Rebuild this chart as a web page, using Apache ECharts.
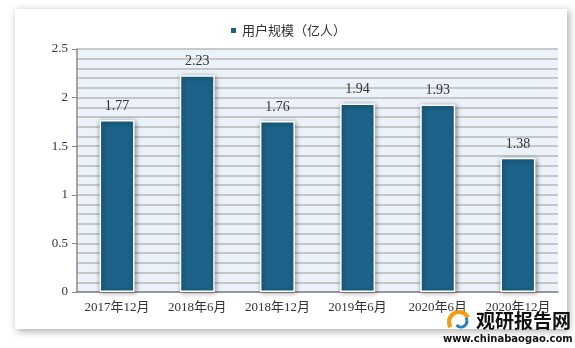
<!DOCTYPE html>
<html><head><meta charset="utf-8">
<script src="https://cdn.jsdelivr.net/npm/echarts@6/dist/echarts.min.js"></script>
<style>html,body{margin:0;padding:0;background:#fff}#c{width:575px;height:348px}</style>
</head><body><div id="c"></div>
<script>
var categories = ['2017年12月','2018年6月','2018年12月','2019年6月','2020年6月','2020年12月'];
var values = [1.77, 2.23, 1.76, 1.94, 1.93, 1.38];
var seriesName = '用户规模（亿人）';
var yTicks = [0, 0.5, 1, 1.5, 2, 2.5];

var chart = echarts.init(document.getElementById('c'));
chart.setOption({
  animation: false,
  backgroundColor: '#fff',
  graphic: [
    {type:'rect', shape:{x:15,y:9,width:552,height:320}, style:{fill:'#fff', shadowBlur:8, shadowColor:'rgba(0,0,0,0.35)', shadowOffsetX:2, shadowOffsetY:2}, z:-10},
    {type:'text', left:476, top:311, style:{text:'观研报告网', font:'bold 19px "Noto Sans CJK SC"', fill:'#111'}, z:10},
    {type:'text', left:443, top:334, style:{text:'www.chinabaogao.com', font:'bold 10px "DejaVu Sans"', fill:'#111'}, z:10},
    {type:'arc', shape:{cx:459,cy:322,r:10,startAngle:2.6,endAngle:5.8}, style:{fill:'none', stroke:'#f39c12', lineWidth:4}, z:10},
    {type:'arc', shape:{cx:461,cy:321,r:6,startAngle:-0.6,endAngle:2.4}, style:{fill:'none', stroke:'#2a7fc1', lineWidth:3}, z:10}
  ],
  legend: {
    top: 19, left: 'center',
    itemWidth: 7, itemHeight: 7, itemGap: 4,
    icon: 'rect',
    textStyle: {fontFamily: '"Noto Sans CJK SC"', fontSize: 13, color: '#333'},
    data: [seriesName]
  },
  grid: {left: 77, right: 17, top: 49, bottom: 56, show: true, backgroundColor: '#EBF2FA', borderWidth: 0},
  xAxis: {
    type: 'category', data: categories,
    axisLine: {lineStyle: {color: '#888', width: 1.5}},
    axisTick: {show: false},
    axisLabel: {interval: 0, color: '#333', fontSize: 13, fontFamily: '"Liberation Serif","Noto Sans CJK SC"', margin: 9}
  },
  yAxis: {
    type: 'value', min: 0, max: 2.5, interval: 0.5,
    axisLine: {show: true, lineStyle: {color: '#888', width: 1.5}},
    axisTick: {show: true, length: 5, inside: false, lineStyle: {color: '#888'}},
    minorTick: {show: false, splitNumber: 5},
    splitLine: {lineStyle: {color: '#b8b8b8', width: 1.5}},
    minorSplitLine: {show: true, lineStyle: {color: '#b8b8b8', width: 1.5}},
    axisLabel: {color: '#333', fontSize: 13, fontFamily: '"Liberation Serif"', margin: 9,
      formatter: function(v){ return yTicks.indexOf(v) >= 0 ? String(v) : ''; }}
  },
  series: [{
    name: seriesName, type: 'bar', data: values, barWidth: 35,
    itemStyle: {color: '#1B6388', borderColor: '#fff', borderWidth: 1.5, shadowBlur: 5, shadowColor: 'rgba(0,0,0,0.45)', shadowOffsetX: 1, shadowOffsetY: 1},
    label: {show: true, position: 'top', distance: 7, color: '#333', fontSize: 14, fontFamily: '"Liberation Serif"',
      formatter: function(p){ return p.value.toFixed(2); }}
  }]
});
</script></body></html>
